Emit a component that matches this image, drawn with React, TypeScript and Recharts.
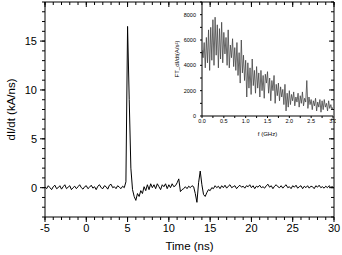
import { LineChart, Line, XAxis, YAxis } from 'recharts'

// main trace: dI/dt in kA/ns, sampled every 0.2 ns from -5 ns
const T_START = -5
const T_STEP = 0.2
const didt = [
  0.1, -0.1, 0.2, 0.0, -0.2,
  0.1, 0.25, -0.1, 0.0, 0.2,
  -0.15, 0.1, 0.3, -0.1, 0.05,
  0.2, -0.2, 0.0, 0.15, -0.1,
  0.1, 0.3, 0.0, -0.15, 0.1,
  0.2, -0.1, 0.05, 0.25, -0.05,
  0.1, -0.2, 0.15, 0.3, 0.0,
  -0.1, 0.2, 0.1, -0.15, 0.25,
  0.35, 0.0, 0.1, -0.1, 0.2,
  0.05, -0.1, 0.15, 0.0, 0.6,
  16.5, 9.0, 2.0, -0.2, -0.9,
  -1.3, -0.6, -0.9, -0.3, -0.6,
  0.1, -0.3, 0.3, -0.2, 0.4,
  0.0, 0.3, -0.1, 0.4, 0.1,
  -0.2, 0.3, 0.1, 0.4, -0.1,
  0.3, 0.0, 0.4, 0.1, 0.2,
  0.5, 0.9, -0.4, -0.2, -0.1,
  0.1, -0.1, 0.15, 0.0, 0.2,
  0.1, -0.6, -1.5, 0.5, 1.7,
  0.3, -0.7, -0.9, -0.5, -0.2,
  -0.3, 0.0, -0.1, 0.2, 0.0,
  0.15, -0.1, 0.2, 0.0, 0.25,
  -0.05, 0.15, 0.3, 0.0, 0.1,
  0.2, -0.1, 0.1, 0.25, 0.05,
  0.15, -0.05, 0.2, 0.1, 0.3,
  0.0, 0.2, -0.1, 0.15, 0.05,
  0.25, 0.0, 0.1, -0.05, 0.2,
  0.35, 0.05, 0.2, -0.1, 0.15,
  0.3, 0.1, 0.0, 0.2, -0.05,
  0.15, 0.3, 0.0, 0.1, -0.1,
  0.2, 0.05, 0.25, -0.05, 0.1,
  0.2, -0.1, 0.15, 0.0, 0.2,
  -0.05, 0.15, 0.1, -0.1, 0.2,
  0.05, 0.25, 0.0, 0.1, -0.05,
  0.15, 0.0, 0.2, 0.05, 0.1,
  0.0,
]

// inset: FT amplitude, every 0.025 GHz from 0
const F_STEP = 0.025
const ftSpectrum = [
  5200, 4600, 5800, 3800, 6200, 4200, 6800, 3600, 7000, 4400,
  7600, 4000, 7800, 4800, 7200, 3800, 6900, 4500, 7400, 4200,
  6600, 4900, 6200, 4000, 6800, 3800, 5600, 4600, 6100, 3900,
  5400, 3600, 5800, 3200, 5000, 2600, 6000, 3400, 4800, 2800,
  4400, 1500, 4200, 2200, 3800, 1700, 4500, 2400, 3600, 1800,
  3900, 2200, 3400, 1500, 3600, 2000, 3200, 1400, 3300, 2600,
  3500, 1800, 3000, 1200, 2800, 2000, 3200, 1000, 2500, 1600,
  2600, 1200, 2300, 1500, 2100, 900, 2500, 400, 1800, 700,
  2000, 900, 1700, 1200, 1900, 800, 1500, 1100, 1800, 700,
  1600, 1000, 1900, 800, 1400, 1100, 2800, 600, 1500, 900,
  1300, 500, 1200, 800, 1400, 400, 1100, 700, 1300, 300,
  1200, 500, 1300, 700, 1000, 400, 1200, 600, 900, 500,
  700,
]

const timeTicks = [-5, 0, 5, 10, 15, 20, 25, 30]
const timeMinorTicks = [-5, -4, -3, -2, -1, 0, 1, 2, 3, 4, 5, 6, 7, 8, 9, 10, 11, 12, 13, 14, 15, 16, 17, 18, 19, 20, 21, 22, 23, 24, 25, 26, 27, 28, 29, 30]
const currentTicks = [0, 5, 10, 15]
const currentMinorTicks = [-3, -2, -1, 0, 1, 2, 3, 4, 5, 6, 7, 8, 9, 10, 11, 12, 13, 14, 15, 16, 17, 18, 19]
const freqTicks = [0, 0.5, 1, 1.5, 2, 2.5, 3]
const freqMinorTicks = [0, 0.25, 0.5, 0.75, 1, 1.25, 1.5, 1.75, 2, 2.25, 2.5, 2.75, 3]
const ftTicks = [0, 2000, 4000, 6000, 8000]
const ftMinorTicks = [0, 1000, 2000, 3000, 4000, 5000, 6000, 7000, 8000, 9000]

const mainData = didt.map((v, i) => ({ t: +(T_START + i * T_STEP).toFixed(2), v }))
const insetData = ftSpectrum.map((a, i) => ({ f: +(i * F_STEP).toFixed(3), a }))

const FONT = '"Liberation Sans", Arial, sans-serif'
const ink = { stroke: '#000', strokeWidth: 1 }
const blank = () => ''
const onlyIn = (list: number[], fmt: (v: number) => string = String) => (v: number) =>
  list.some(m => Math.abs(m - v) < 1e-9) ? fmt(v) : ''

const mainText = { fill: '#000', fontSize: 11, fontFamily: FONT }
const titleText = { ...mainText, fontSize: 11.5 }
const insetText = { fill: '#000', fontSize: 5.5, fontFamily: FONT }
const MAIN_T: [number, number] = [-5, 30]
const MAIN_Y: [number, number] = [-3, 19]

// layer 1: axes lines, minor ticks, labels and the trace
// layer 2 (same geometry, overlaid): the longer major tick marks
function MainChart({ major }: { major: boolean }) {
  const xt = major ? timeTicks : timeMinorTicks
  const yt = major ? currentTicks : currentMinorTicks
  const out = major ? 5 : 3
  return (
    <LineChart width={342} height={255} data={mainData} margin={{ top: 0, right: 0, bottom: 0, left: 0 }}>
      <XAxis xAxisId="b" dataKey="t" type="number" domain={MAIN_T} allowDataOverflow ticks={xt} interval={0}
        height={38} tickSize={out} tickMargin={major ? 2 : 4} axisLine={major ? false : ink} tickLine={ink}
        tick={mainText} tickFormatter={major ? blank : onlyIn(timeTicks)}
        label={major ? undefined : { value: 'Time (ns)', position: 'insideBottom', offset: 5, style: titleText }} />
      <XAxis xAxisId="t" orientation="top" dataKey="t" type="number" domain={MAIN_T} allowDataOverflow ticks={xt} interval={0}
        height={2} tickSize={-out} axisLine={major ? false : ink} tickLine={ink} tick={mainText} tickFormatter={blank} />
      <YAxis yAxisId="l" type="number" domain={MAIN_Y} allowDataOverflow ticks={yt} interval={0}
        width={45} tickSize={out} tickMargin={major ? 3 : 5} axisLine={major ? false : ink} tickLine={ink}
        tick={mainText} tickFormatter={major ? blank : onlyIn(currentTicks)}
        label={major ? undefined : { value: 'dI/dt (kA/ns)', angle: -90, position: 'insideLeft', offset: 11, style: { ...titleText, textAnchor: 'middle' } }} />
      <YAxis yAxisId="r" orientation="right" type="number" domain={MAIN_Y} allowDataOverflow ticks={yt} interval={0}
        width={8} tickSize={-out} axisLine={major ? false : ink} tickLine={ink} tick={mainText} tickFormatter={blank} />
      {!major && (
        <Line xAxisId="b" yAxisId="l" dataKey="v" stroke="#000" strokeWidth={1} dot={false} isAnimationActive={false} />
      )}
    </LineChart>
  )
}

function InsetChart() {
  return (
    <LineChart width={168} height={142} data={insetData} margin={{ top: 2, right: 3, bottom: 0, left: 0 }}>
      <XAxis dataKey="f" type="number" domain={[0, 3]} allowDataOverflow ticks={freqMinorTicks} interval={0}
        height={26} tickSize={2} tickMargin={1} axisLine={ink} tickLine={ink}
        tick={insetText} tickFormatter={onlyIn(freqTicks, v => v.toFixed(1))}
        label={{ value: 'f (GHz)', position: 'insideBottom', offset: 6, style: { ...insetText, fontSize: 6 } }} />
      <YAxis type="number" domain={[0, 9000]} allowDataOverflow ticks={ftMinorTicks} interval={0}
        width={34} tickSize={2} tickMargin={4} axisLine={ink} tickLine={ink}
        tick={insetText} tickFormatter={onlyIn(ftTicks)}
        label={{ value: 'FT_dI/dt(A/s²)', angle: -90, position: 'insideLeft', offset: 9, style: { ...insetText, fontSize: 6, textAnchor: 'middle' } }} />
      <Line dataKey="a" stroke="#444" strokeWidth={0.8} dot={false} isAnimationActive={false} />
    </LineChart>
  )
}

export default function App() {
  return (
    <div style={{ position: 'absolute', left: 0, top: 0, width: 342, height: 255, background: '#fff', fontFamily: FONT }}>
      <div style={{ position: 'absolute', left: 0, top: 0 }}>
        <MainChart major={false} />
      </div>
      <div style={{ position: 'absolute', left: 0, top: 0 }}>
        <MainChart major />
      </div>
      <div style={{ position: 'absolute', left: 168, top: 0 }}>
        <InsetChart />
      </div>
    </div>
  )
}
